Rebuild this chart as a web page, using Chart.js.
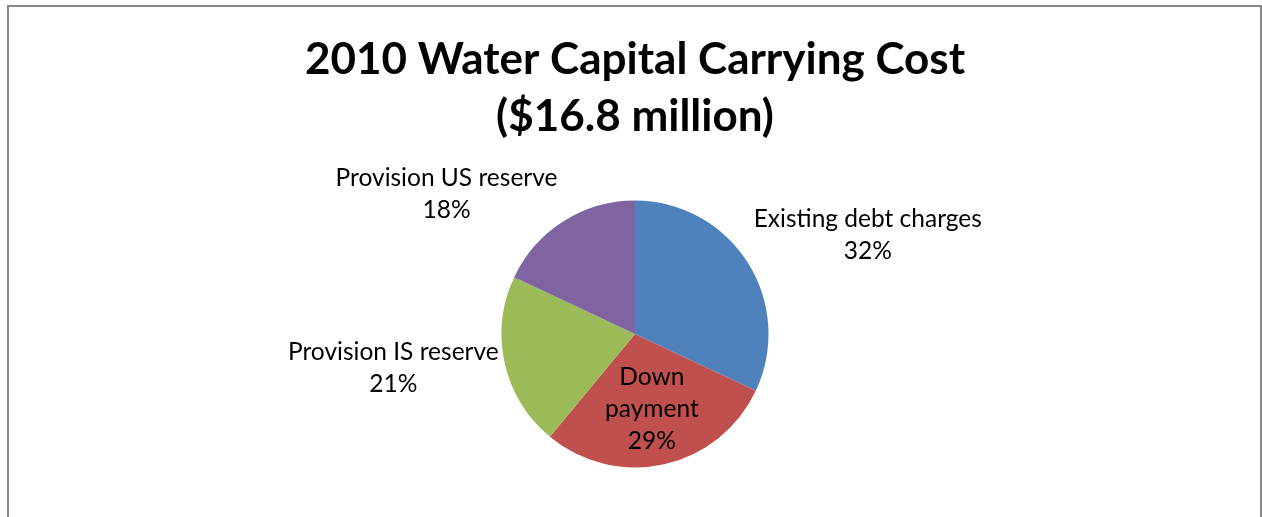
<!DOCTYPE html>
<html>
<head>
<meta charset="utf-8">
<title>2010 Water Capital Carrying Cost</title>
<script src="https://cdn.jsdelivr.net/npm/chart.js@4.4.1/dist/chart.umd.min.js"></script>
<style>
    html, body { margin: 0; padding: 0; background: #fff; overflow: hidden; }
    #frame {
        position: absolute; left: 7px; top: 5px;
        width: 1251px; height: 540px;
        border: 2px solid #888;
    }
    .chart-container { position: absolute; left: 0; top: 0; width: 1262px; height: 517px; }
</style>
</head>
<body>
<div id="frame"></div>
<div class="chart-container"><canvas id="myChart"></canvas></div>
<script>
// Chart data
const titleLines = ['2010 Water Capital Carrying Cost', '($16.8 million)'];
const categories = ['Existing debt charges', 'Down payment', 'Provision IS reserve', 'Provision US reserve'];
const shares = [32, 29, 21, 18];
const sliceColors = ['#4F81BD', '#C0504D', '#9BBB59', '#8064A2'];
const labelInside = [false, true, false, false];

const FONT = 'Lato, Calibri, sans-serif';

// Draws "category / percent" labels next to each slice
const sliceLabels = {
    id: 'sliceLabels',
    afterDatasetsDraw(chart) {
        const ctx = chart.ctx;
        const meta = chart.getDatasetMeta(0);
        const lineH = 32;
        const gap = 6;
        ctx.save();
        ctx.font = '24.5px ' + FONT;
        ctx.fillStyle = '#000';
        ctx.textAlign = 'center';
        ctx.textBaseline = 'middle';
        meta.data.forEach((arc, i) => {
            const mid = (arc.startAngle + arc.endAngle) / 2;
            const dx = Math.cos(mid);
            const dy = Math.sin(mid);
            const pct = shares[i] + '%';
            if (labelInside[i]) {
                const lines = categories[i].split(' ').concat(pct);
                const x = arc.x + dx * arc.outerRadius * 0.58;
                const y = arc.y + dy * arc.outerRadius * 0.58;
                lines.forEach((t, j) => {
                    ctx.fillText(t, x, y + (j - (lines.length - 1) / 2) * lineH);
                });
            } else {
                const lines = [categories[i], pct];
                const ex = arc.x + dx * arc.outerRadius;
                const ey = arc.y + dy * arc.outerRadius;
                const w = Math.max(...lines.map(t => ctx.measureText(t).width));
                const h = lines.length * lineH;
                const left = dx >= 0 ? ex + gap : ex - gap - w;
                let top;
                if (Math.abs(dy) < 0.4) top = ey - h / 2;
                else if (dy < 0) top = ey - h;
                else top = ey;
                top += 5;
                lines.forEach((t, j) => {
                    ctx.fillText(t, left + w / 2, top + lineH * (j + 0.5));
                });
            }
        });
        ctx.restore();
    }
};

function createChart() {
    const ctx = document.getElementById('myChart').getContext('2d');
    return new Chart(ctx, {
        type: 'pie',
        data: {
            labels: categories,
            datasets: [{
                data: shares,
                backgroundColor: sliceColors,
                borderWidth: 0,
                hoverOffset: 0
            }]
        },
        options: {
            responsive: true,
            maintainAspectRatio: false,
            animation: false,
            layout: {
                padding: { top: 0, left: 8, right: 0, bottom: 49.5 }
            },
            plugins: {
                legend: { display: false },
                tooltip: { enabled: false },
                title: {
                    display: true,
                    text: titleLines,
                    color: '#000',
                    font: { family: FONT, size: 44, weight: 'bold', lineHeight: 57 / 44 },
                    padding: { top: 31.5, bottom: 55 }
                }
            }
        },
        plugins: [sliceLabels]
    });
}

document.addEventListener('DOMContentLoaded', createChart);
</script>
</body>
</html>
